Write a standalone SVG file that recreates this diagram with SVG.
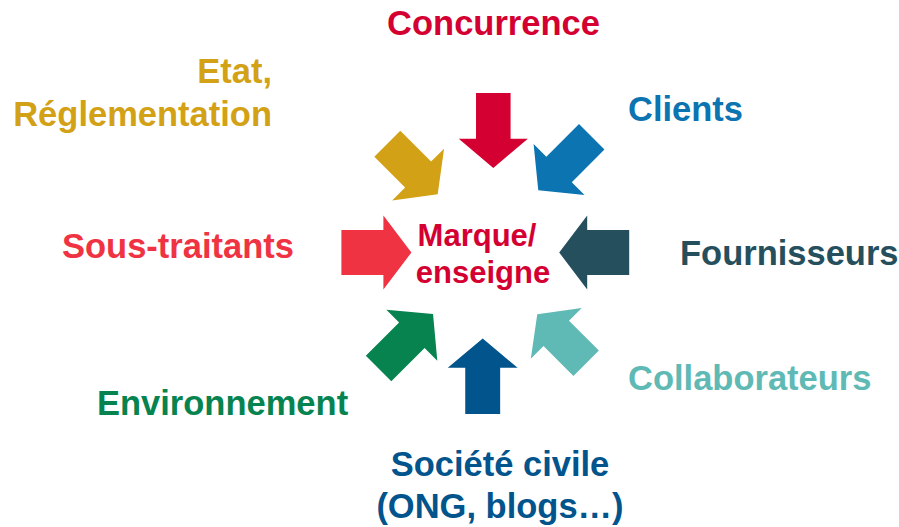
<svg xmlns="http://www.w3.org/2000/svg" width="899" height="527" viewBox="0 0 899 527">
  <style>
    text { font-family: "Liberation Sans", Arial, sans-serif; font-weight: bold; font-size: 34.5px; }
    .c { text-anchor: middle; }
    .r { text-anchor: end; }
  </style>
  <defs>
    <!-- block arrow pointing +x, centred on the origin -->
    <polygon id="arrow" points="-36,-18 8,-18 8,-36 36,0 8,36 8,18 -36,18"/>
    <polygon id="arrowWide" points="-35,-22.5 7,-22.5 7,-37 35,0 7,37 7,22.5 -35,22.5"/>
  </defs>
  <rect width="899" height="527" fill="#ffffff"/>

  <g id="connectors">
    <use href="#arrow" fill="#D50032" transform="translate(493.3,130.5) rotate(90) scale(1.04,0.96)"/>
    <use href="#arrow" fill="#0B74B1" transform="translate(565,163.5) rotate(135) scale(1.05,1)"/>
    <use href="#arrow" fill="#D3A115" transform="translate(412.5,169) rotate(45) scale(0.99,1.02)"/>
    <use href="#arrowWide" fill="#F03342" transform="translate(376.4,252.5)"/>
    <use href="#arrowWide" fill="#264F5E" transform="translate(594.2,252.5) rotate(180)"/>
    <use href="#arrow" fill="#06834F" transform="translate(405.8,341.3) rotate(-45) scale(1.07,1)"/>
    <use href="#arrow" fill="#5FB9B4" transform="translate(561.7,338.8) rotate(-135) scale(0.96,1)"/>
    <use href="#arrow" fill="#02548C" transform="translate(482.7,376.2) rotate(-90) scale(1.05,0.97)"/>
  </g>

  <g id="center">
    <text class="c" x="477" y="246" fill="#D50032" style="font-size:31px">Marque/</text>
    <text class="c" x="483" y="283" fill="#D50032" style="font-size:31px">enseigne</text>
  </g>
  <g id="concurrence">
    <text class="c" x="493.5" y="35" fill="#D50032">Concurrence</text>
  </g>
  <g id="clients">
    <text x="628" y="121" fill="#0B74B1">Clients</text>
  </g>
  <g id="etat">
    <text class="r" x="272" y="83" fill="#D3A115">Etat,</text>
    <text class="r" x="272" y="126" fill="#D3A115">Réglementation</text>
  </g>
  <g id="sous-traitants">
    <text x="62" y="258" fill="#F03342">Sous-traitants</text>
  </g>
  <g id="fournisseurs">
    <text x="680" y="265" fill="#264F5E">Fournisseurs</text>
  </g>
  <g id="environnement">
    <text x="97" y="415" fill="#06834F">Environnement</text>
  </g>
  <g id="collaborateurs">
    <text x="628" y="390" fill="#5FB9B4">Collaborateurs</text>
  </g>
  <g id="societe">
    <text class="c" x="500" y="476" fill="#02548C">Société civile</text>
    <text class="c" x="500" y="518" fill="#02548C">(ONG, blogs…)</text>
  </g>
</svg>
